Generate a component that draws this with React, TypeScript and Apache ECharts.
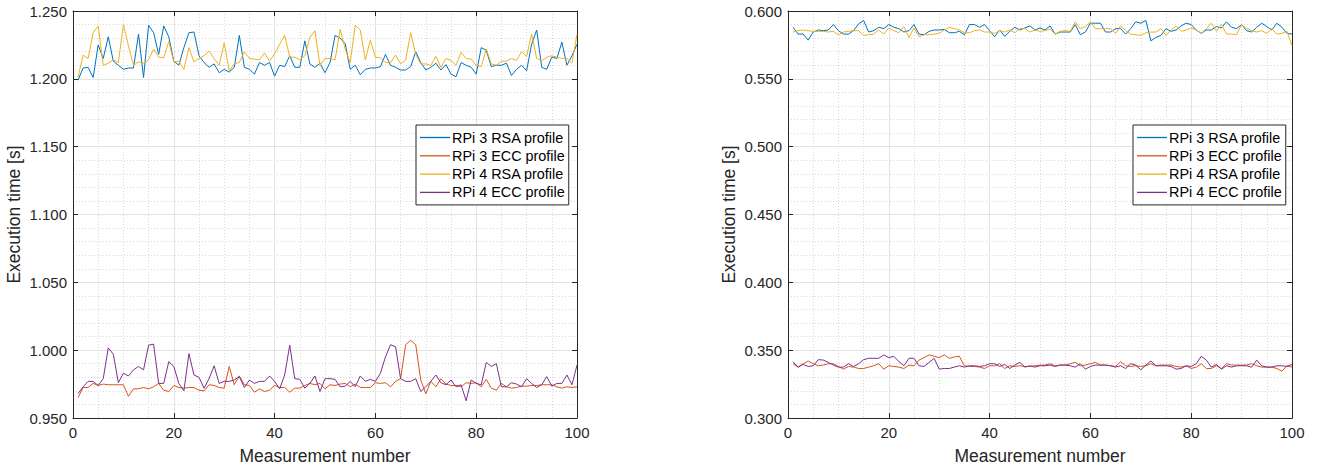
import React, { useEffect, useRef } from "react";
import * as echarts from "echarts";

const measurement: number[] = Array.from({ length: 100 }, (_, i) => i + 1);
const seriesNames = ["RPi 3 RSA profile", "RPi 3 ECC profile", "RPi 4 RSA profile", "RPi 4 ECC profile"];
const colors = ["#0072BD", "#D95319", "#EDB120", "#7E2F8E"];

// Left chart
const leftRpi3Rsa = [
  1.199, 1.208, 1.2085, 1.201, 1.225, 1.215, 1.231, 1.213, 1.210, 1.207,
  1.208, 1.208, 1.233, 1.201, 1.2395, 1.234, 1.218, 1.239, 1.231, 1.213,
  1.210, 1.223, 1.234, 1.2345, 1.217, 1.212, 1.2085, 1.211, 1.2045, 1.207,
  1.205, 1.2085, 1.232, 1.2085, 1.207, 1.2035, 1.212, 1.210, 1.212, 1.202,
  1.210, 1.209, 1.217, 1.2085, 1.2085, 1.228, 1.211, 1.2085, 1.2115, 1.2045,
  1.212, 1.232, 1.230, 1.226, 1.207, 1.210, 1.203, 1.207, 1.208, 1.208,
  1.209, 1.218, 1.210, 1.2085, 1.2065, 1.2065, 1.209, 1.220, 1.212, 1.2065,
  1.2085, 1.2115, 1.2065, 1.2105, 1.2035, 1.2015, 1.212, 1.210, 1.2085, 1.2035,
  1.223, 1.221, 1.209, 1.210, 1.210, 1.2115, 1.2025, 1.207, 1.210, 1.206,
  1.2255, 1.236, 1.2085, 1.207, 1.216, 1.215, 1.227, 1.210, 1.217, 1.2255,
];
const leftRpi3Ecc = [
  0.965, 0.9725, 0.9725, 0.9755, 0.974, 0.975, 0.9745, 0.9745, 0.9745, 0.9745,
  0.966, 0.9715, 0.9715, 0.9725, 0.9715, 0.973, 0.9755, 0.9705, 0.9695, 0.974,
  0.9725, 0.972, 0.9725, 0.9725, 0.9705, 0.970, 0.9745, 0.974, 0.9725, 0.972,
  0.988, 0.9745, 0.981, 0.9745, 0.974, 0.969, 0.9715, 0.9695, 0.9705, 0.974,
  0.9725, 0.9725, 0.969, 0.972, 0.972, 0.974, 0.9755, 0.9745, 0.9755, 0.9715,
  0.9745, 0.974, 0.975, 0.9755, 0.973, 0.975, 0.9725, 0.9725, 0.9725, 0.976,
  0.9755, 0.976, 0.973, 0.977, 0.979, 1.004, 1.0073, 1.004, 0.978, 0.9678,
  0.977, 0.973, 0.979, 0.975, 0.974, 0.974, 0.973, 0.976, 0.9755, 0.976,
  0.973, 0.9785, 0.972, 0.9705, 0.9755, 0.973, 0.972, 0.9725, 0.9735, 0.9735,
  0.974, 0.974, 0.9745, 0.9745, 0.9745, 0.973, 0.972, 0.973, 0.9725, 0.973,
];
const leftRpi4Rsa = [
  1.201, 1.2175, 1.215, 1.234, 1.239, 1.210, 1.2115, 1.214, 1.212, 1.240,
  1.2245, 1.210, 1.2125, 1.2115, 1.214, 1.222, 1.216, 1.2155, 1.2275, 1.2125,
  1.213, 1.207, 1.223, 1.2125, 1.215, 1.217, 1.2205, 1.215, 1.210, 1.2265,
  1.206, 1.211, 1.212, 1.220, 1.215, 1.2145, 1.214, 1.219, 1.213, 1.2185,
  1.2255, 1.232, 1.216, 1.216, 1.214, 1.217, 1.2305, 1.2355, 1.210, 1.215,
  1.215, 1.214, 1.2365, 1.222, 1.212, 1.2395, 1.236, 1.214, 1.2285, 1.216,
  1.2155, 1.212, 1.212, 1.2175, 1.211, 1.214, 1.234, 1.218, 1.211, 1.211,
  1.210, 1.2165, 1.2085, 1.215, 1.2135, 1.210, 1.2195, 1.215, 1.2145, 1.210,
  1.209, 1.222, 1.211, 1.210, 1.213, 1.213, 1.215, 1.2135, 1.220, 1.2165,
  1.233, 1.215, 1.2135, 1.216, 1.217, 1.216, 1.215, 1.215, 1.2115, 1.233,
];
const leftRpi4Ecc = [
  0.968, 0.973, 0.977, 0.977, 0.974, 0.979, 1.0017, 0.997, 0.976, 0.983,
  0.981, 0.9855, 0.988, 0.9855, 1.0037, 1.0044, 0.9755, 0.9755, 0.9915, 0.988,
  0.9755, 0.970, 0.9975, 0.9817, 0.980, 0.972, 0.979, 0.9885, 0.9755, 0.977,
  0.977, 0.978, 0.9805, 0.9725, 0.978, 0.9755, 0.977, 0.977, 0.981, 0.977,
  0.9715, 0.9817, 1.0037, 0.979, 0.9785, 0.972, 0.9755, 0.981, 0.9695, 0.979,
  0.979, 0.9785, 0.973, 0.9735, 0.977, 0.973, 0.981, 0.977, 0.9785, 0.977,
  0.983, 0.995, 1.004, 1.0025, 0.979, 0.977, 0.977, 0.979, 0.9695, 0.973,
  0.977, 0.9817, 0.976, 0.9745, 0.978, 0.973, 0.9745, 0.9627, 0.978, 0.9755,
  0.9745, 0.991, 0.988, 0.990, 0.973, 0.973, 0.976, 0.975, 0.973, 0.979,
  0.9755, 0.9725, 0.9745, 0.9805, 0.9735, 0.9755, 0.9755, 0.9817, 0.9745, 0.989,
];

// Right chart
const rightRpi3Rsa = [
  0.588, 0.583, 0.583, 0.5785, 0.5845, 0.586, 0.5855, 0.586, 0.590, 0.5855,
  0.583, 0.583, 0.5855, 0.5905, 0.593, 0.5845, 0.5855, 0.588, 0.587, 0.590,
  0.588, 0.587, 0.5845, 0.5855, 0.590, 0.583, 0.5825, 0.585, 0.586, 0.586,
  0.5865, 0.584, 0.584, 0.585, 0.5825, 0.590, 0.590, 0.588, 0.590, 0.5855,
  0.581, 0.586, 0.5813, 0.585, 0.588, 0.586, 0.5875, 0.589, 0.586, 0.5875,
  0.586, 0.589, 0.583, 0.5845, 0.5845, 0.5845, 0.590, 0.5825, 0.5845, 0.591,
  0.591, 0.591, 0.5845, 0.5845, 0.587, 0.587, 0.583, 0.587, 0.592, 0.591,
  0.593, 0.578, 0.5805, 0.582, 0.587, 0.585, 0.586, 0.589, 0.591, 0.590,
  0.586, 0.5835, 0.586, 0.586, 0.5885, 0.5875, 0.592, 0.588, 0.587, 0.590,
  0.5855, 0.5845, 0.588, 0.591, 0.5885, 0.586, 0.591, 0.588, 0.5835, 0.583,
];
const rightRpi3Ecc = [
  0.340, 0.3375, 0.340, 0.342, 0.340, 0.3385, 0.339, 0.340, 0.340, 0.338,
  0.336, 0.338, 0.3375, 0.3365, 0.3365, 0.3375, 0.3385, 0.340, 0.336, 0.3385,
  0.338, 0.3375, 0.3365, 0.339, 0.3385, 0.3427, 0.3445, 0.3465, 0.3455, 0.3445,
  0.3465, 0.344, 0.345, 0.3455, 0.3385, 0.338, 0.338, 0.3375, 0.3365, 0.3385,
  0.3385, 0.340, 0.3365, 0.3385, 0.338, 0.3385, 0.338, 0.338, 0.3385, 0.339,
  0.339, 0.340, 0.3385, 0.339, 0.339, 0.340, 0.341, 0.3385, 0.339, 0.340,
  0.341, 0.339, 0.339, 0.3385, 0.338, 0.3415, 0.3385, 0.338, 0.3385, 0.338,
  0.3385, 0.340, 0.3385, 0.339, 0.339, 0.339, 0.338, 0.3375, 0.3385, 0.3365,
  0.3375, 0.340, 0.3365, 0.3365, 0.3385, 0.3365, 0.340, 0.339, 0.339, 0.339,
  0.339, 0.340, 0.3385, 0.3375, 0.3375, 0.3375, 0.3365, 0.3345, 0.3385, 0.3375,
];
const rightRpi4Rsa = [
  0.5845, 0.5855, 0.586, 0.5855, 0.585, 0.585, 0.585, 0.5845, 0.585, 0.5825,
  0.5845, 0.585, 0.5855, 0.5855, 0.582, 0.5825, 0.583, 0.586, 0.583, 0.5875,
  0.5855, 0.584, 0.5885, 0.5805, 0.5875, 0.581, 0.5825, 0.5825, 0.583, 0.5835,
  0.586, 0.588, 0.587, 0.586, 0.584, 0.584, 0.5855, 0.586, 0.5845, 0.5845,
  0.5835, 0.5855, 0.5845, 0.586, 0.584, 0.587, 0.587, 0.5845, 0.586, 0.585,
  0.5855, 0.5865, 0.583, 0.585, 0.5855, 0.585, 0.592, 0.587, 0.5885, 0.592,
  0.587, 0.587, 0.587, 0.587, 0.5835, 0.589, 0.5855, 0.583, 0.5825, 0.582,
  0.584, 0.5845, 0.5845, 0.587, 0.582, 0.586, 0.589, 0.585, 0.586, 0.5875,
  0.586, 0.5835, 0.587, 0.591, 0.585, 0.590, 0.583, 0.583, 0.5825, 0.590,
  0.587, 0.5855, 0.5845, 0.5855, 0.5835, 0.587, 0.583, 0.5835, 0.585, 0.5745,
];
const rightRpi4Ecc = [
  0.3415, 0.3375, 0.3395, 0.338, 0.3385, 0.343, 0.3427, 0.341, 0.339, 0.3375,
  0.3375, 0.340, 0.338, 0.340, 0.343, 0.344, 0.344, 0.344, 0.3465, 0.3445,
  0.3455, 0.3415, 0.3385, 0.344, 0.344, 0.3385, 0.338, 0.341, 0.344, 0.336,
  0.3365, 0.3365, 0.3375, 0.3385, 0.3375, 0.3385, 0.3385, 0.338, 0.3385, 0.340,
  0.340, 0.338, 0.3395, 0.3365, 0.339, 0.341, 0.3375, 0.3385, 0.3375, 0.3385,
  0.3385, 0.339, 0.338, 0.339, 0.339, 0.3385, 0.3375, 0.340, 0.336, 0.338,
  0.339, 0.339, 0.339, 0.3385, 0.3375, 0.3385, 0.3365, 0.340, 0.339, 0.3355,
  0.339, 0.342, 0.3385, 0.3385, 0.3385, 0.338, 0.336, 0.3365, 0.3385, 0.338,
  0.340, 0.3455, 0.3427, 0.3375, 0.3395, 0.336, 0.3385, 0.3375, 0.3385, 0.3385,
  0.3385, 0.3375, 0.3427, 0.3385, 0.3375, 0.3375, 0.3385, 0.3385, 0.338, 0.3395,
];

const xTicks = { min: 0, max: 100, interval: 20 };
const leftYTicks = { min: 0.95, max: 1.25, interval: 0.05 };
const rightYTicks = { min: 0.3, max: 0.6, interval: 0.05 };

const FONT = "'Liberation Sans', Arial, Helvetica, sans-serif";
const AXIS_COLOR = "#262626";

function pairs(vals: number[]) {
  return vals.map((v, i) => [measurement[i], v]);
}

function xAxes(gridIndex: number) {
  const common = {
    type: "value",
    gridIndex,
    min: xTicks.min,
    max: xTicks.max,
    interval: xTicks.interval,
    axisLine: { show: true, onZero: false, lineStyle: { color: AXIS_COLOR, width: 1 } },
    axisTick: { show: true, inside: true, length: 5, lineStyle: { color: AXIS_COLOR } },
  };
  return [
    {
      ...common,
      position: "bottom",
      name: "Measurement number",
      nameLocation: "middle",
      nameGap: 29,
      nameTextStyle: { fontFamily: FONT, fontSize: 17.5, color: AXIS_COLOR },
      axisLabel: { show: true, margin: 7, fontFamily: FONT, fontSize: 15, color: AXIS_COLOR },
      splitLine: { show: true, lineStyle: { color: "#e3e3e3", width: 1, type: "solid" } },
      minorTick: { show: true, splitNumber: 4, length: 0, lineStyle: { color: "transparent" } },
      minorSplitLine: { show: true, lineStyle: { color: "#d9d9d9", width: 1, type: [1, 2] } },
    },
    {
      ...common,
      position: "top",
      axisLabel: { show: false },
      splitLine: { show: false },
    },
  ];
}

function yAxes(gridIndex: number, t: { min: number; max: number; interval: number }) {
  const common = {
    type: "value",
    gridIndex,
    min: t.min,
    max: t.max,
    interval: t.interval,
    axisLine: { show: true, onZero: false, lineStyle: { color: AXIS_COLOR, width: 1 } },
    axisTick: { show: true, inside: true, length: 5, lineStyle: { color: AXIS_COLOR } },
  };
  return [
    {
      ...common,
      position: "left",
      name: "Execution time [s]",
      nameLocation: "middle",
      nameGap: 50,
      nameTextStyle: { fontFamily: FONT, fontSize: 17.5, color: AXIS_COLOR },
      axisLabel: {
        show: true,
        margin: 6,
        fontFamily: FONT,
        fontSize: 15,
        color: AXIS_COLOR,
        formatter: (v: number) => v.toFixed(3),
      },
      splitLine: { show: true, lineStyle: { color: "#e3e3e3", width: 1, type: "solid" } },
      minorTick: { show: true, splitNumber: 5, length: 0, lineStyle: { color: "transparent" } },
      minorSplitLine: { show: true, lineStyle: { color: "#d9d9d9", width: 1, type: [1, 2] } },
    },
    {
      ...common,
      position: "right",
      axisLabel: { show: false },
      splitLine: { show: false },
    },
  ];
}

function makeSeries(axisIdx: number, data: number[][]) {
  return data.map((vals, k) => ({
    type: "line",
    name: seriesNames[k],
    xAxisIndex: axisIdx,
    yAxisIndex: axisIdx,
    data: pairs(vals),
    symbol: "none",
    showSymbol: false,
    lineStyle: { width: 1, color: colors[k] },
    itemStyle: { color: colors[k] },
    z: 3,
  }));
}

function legend(left: number) {
  return {
    orient: "vertical",
    left,
    top: 125,
    data: seriesNames,
    icon: "rect",
    itemWidth: 30,
    itemHeight: 1.3,
    itemGap: 3.3,
    padding: [5, 4, 5, 4],
    backgroundColor: "#ffffff",
    borderColor: AXIS_COLOR,
    borderWidth: 1,
    borderRadius: 0,
    textStyle: {
      fontFamily: FONT,
      fontSize: 14.4,
      lineHeight: 15,
      height: 15,
      color: "#000000",
      padding: [0, 0, 0, -3],
    },
    selectedMode: false,
  };
}

export default function App() {
  const ref = useRef<HTMLDivElement>(null);
  useEffect(() => {
    if (!ref.current) return;
    const chart = echarts.init(ref.current, undefined, { renderer: "svg" });
    chart.setOption({
      animation: false,
      backgroundColor: "#ffffff",
      grid: [
        { left: 73, top: 11, width: 504, height: 411, show: false },
        { left: 788, top: 11, width: 504, height: 411, show: false },
      ],
      xAxis: [...xAxes(0), ...xAxes(1)],
      yAxis: [...yAxes(0, leftYTicks), ...yAxes(1, rightYTicks)],
      legend: [legend(416), legend(1133)],
      series: [
        ...makeSeries(0, [leftRpi3Rsa, leftRpi3Ecc, leftRpi4Rsa, leftRpi4Ecc]),
        ...makeSeries(2, [rightRpi3Rsa, rightRpi3Ecc, rightRpi4Rsa, rightRpi4Ecc]),
      ],
    });
    return () => chart.dispose();
  }, []);
  return (
    <div
      ref={ref}
      style={{ position: "fixed", left: 0, top: 0, width: 1317, height: 470, background: "#fff" }}
    />
  );
}
